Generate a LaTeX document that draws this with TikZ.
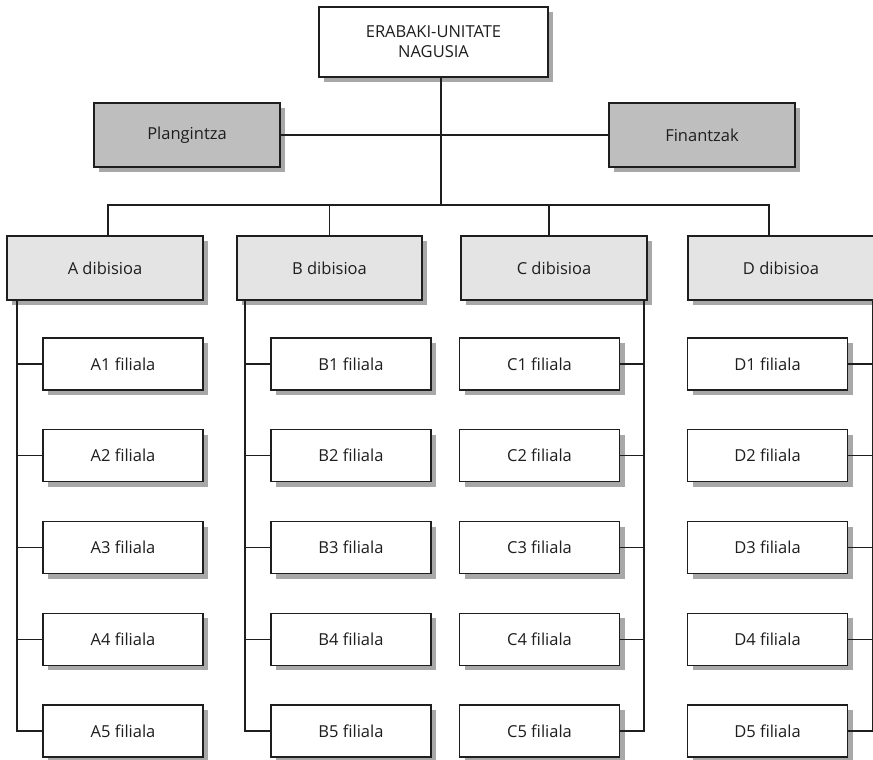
\documentclass[tikz,border=0pt]{standalone}
\usepackage{fontspec}
\setmainfont{Open Sans}
\usetikzlibrary{shadows}

\definecolor{divgray}{HTML}{E4E4E4}
\definecolor{staffgray}{HTML}{BEBEBE}
\definecolor{shadegray}{HTML}{A8A8A8}
\definecolor{inkgray}{HTML}{1E1E1E}

\tikzset{
	box/.style = {draw = inkgray, line width = 1.2pt, inner sep = 0pt, align = center, text = inkgray,
		font = \fontsize{16.5}{20}\selectfont,
		drop shadow = {shadow xshift = 5pt, shadow yshift = -5pt, fill = shadegray, opacity = 1}},
	headbox/.style = {box, fill = white, minimum width = 229pt, minimum height = 70pt},
	staffbox/.style = {box, fill = staffgray, minimum width = 186pt, minimum height = 64pt},
	divbox/.style = {box, fill = divgray, minimum height = 64pt},
	subbox/.style = {box, fill = white, minimum width = 160pt, minimum height = 52pt},
	link/.style = {draw = inkgray, line width = 1.2pt}
}

\begin{document}
\begin{tikzpicture}[x = 1pt, y = -1pt]
	\useasboundingbox (0, 0) rectangle (873, 760);
	
	% goiko maila
	\node[headbox] (head) at (433.5, 42) {ERABAKI-UNITATE\\NAGUSIA};
	\node[staffbox] (plan) at (187, 135) {Plangintza};
	\node[staffbox] (fin) at (702, 135) {Finantzak};
	\coordinate (bus) at (441, 205);
	
	\draw[link] (head.south -| bus) -- (bus);
	\draw[link] (plan.east) -- (fin.west);
	
	% dibisioak
	\node[divbox, minimum width = 196pt] (divA) at (105, 268) {A dibisioa};
	\node[divbox, minimum width = 185pt] (divB) at (329.5, 268) {B dibisioa};
	\node[divbox, minimum width = 186pt] (divC) at (554, 268) {C dibisioa};
	\node[divbox, minimum width = 186pt] (divD) at (781, 268) {D dibisioa};
	
	\coordinate (dropA) at ([xshift = 3pt] divA.north);
	\coordinate (dropC) at ([xshift = -5pt] divC.north);
	\coordinate (dropD) at ([xshift = -12pt] divD.north);
	
	\draw[link] (dropA) |- (bus) -| (dropD);
	\draw[link] (divB.north) -- (divB.north |- bus);
	\draw[link] (dropC) -- (dropC |- bus);
	
	% filialak
	\foreach \c/\sx/\lx/\sd in {A/123/17/west, B/351/245/west, C/539.5/644/east, D/767.5/873/east} {
		\foreach \i [evaluate = \i as \yy using 364 + 91.75 * (\i - 1)] in {1, ..., 5}
		\node[subbox] (\c\i) at (\sx, \yy) {\c\i{} filiala};
		\coordinate (rail\c) at (\lx, 300);
		\draw[link] (rail\c) |- (\c5.\sd);
		\foreach \i in {1, ..., 4}
		\draw[link] (\c\i.\sd) -- (\c\i.\sd -| rail\c);
	}
\end{tikzpicture}
\end{document}
